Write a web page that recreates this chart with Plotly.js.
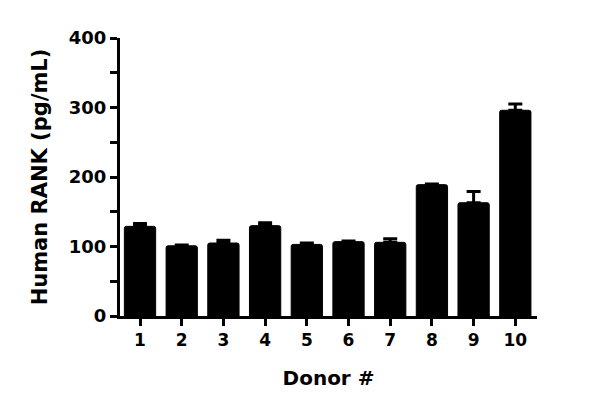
<!DOCTYPE html>
<html>
<head>
<meta charset="utf-8">
<script src="https://cdn.plot.ly/plotly-3.0.1.min.js"></script>
<style>
	html, body { margin: 0; padding: 0; background: #fff; }
	#chart { width: 600px; height: 410px; }
</style>
</head>
<body>
<div id="chart"></div>
<script>
'use strict';

// donor numbers on the x axis
const donors = ['1', '2', '3', '4', '5', '6', '7', '8', '9', '10'];
// mean Human RANK (pg/mL)
const means = [129, 101, 105, 130, 103, 107, 106, 189, 163, 296];
// upper error (SEM) added on top of each bar
const errors = [4, 1, 4, 4, 2, 1, 5, 1, 16, 9];

const yTickVals = [0, 50, 100, 150, 200, 250, 300, 350, 400];
const yTickText = ['0', '', '100', '', '200', '', '300', '', '400'];

const FONT = 'DejaVu Sans, sans-serif';

function drawChart()
{
	const trace = {
		x: donors,
		y: means,
		type: 'bar',
		width: 0.75,
		marker: {
			color: '#000000',
			line: {color: '#000000', width: 1},
			cornerradius: 2
		},
		error_y: {
			type: 'data',
			symmetric: false,
			array: errors,
			arrayminus: errors.map(function() { return 0; }),
			color: '#000000',
			thickness: 3,
			width: 7
		},
		hoverinfo: 'none'
	};

	const layout = {
		width: 600,
		height: 410,
		margin: {l: 120, r: 63, t: 38, b: 94},
		paper_bgcolor: '#ffffff',
		plot_bgcolor: '#ffffff',
		showlegend: false,
		font: {family: FONT, color: '#000000'},
		xaxis: {
			type: 'category',
			range: [-0.48, 9.52],
			showline: true,
			linecolor: '#000000',
			linewidth: 3,
			ticks: 'outside',
			ticklen: 7,
			tickwidth: 3,
			tickcolor: '#000000',
			showgrid: false,
			zeroline: false,
			tickfont: {family: FONT, size: 17, color: '#000000', weight: 'bold'},
			title: {
				text: 'Donor #',
				font: {family: FONT, size: 20, color: '#000000', weight: 'bold'},
				standoff: 22
			}
		},
		yaxis: {
			range: [0, 400],
			showline: true,
			linecolor: '#000000',
			linewidth: 3,
			ticks: 'outside',
			ticklen: 7,
			tickwidth: 3,
			tickcolor: '#000000',
			tickmode: 'array',
			tickvals: yTickVals,
			ticktext: yTickText,
			showgrid: false,
			zeroline: false,
			tickfont: {family: FONT, size: 18, color: '#000000', weight: 'bold'},
			title: {
				text: 'Human RANK (pg/mL)',
				font: {family: FONT, size: 21, color: '#000000', weight: 'bold'},
				standoff: 16
			}
		}
	};

	Plotly.newPlot('chart', [trace], layout, {staticPlot: true, displayModeBar: false});
}

drawChart();
</script>
</body>
</html>
